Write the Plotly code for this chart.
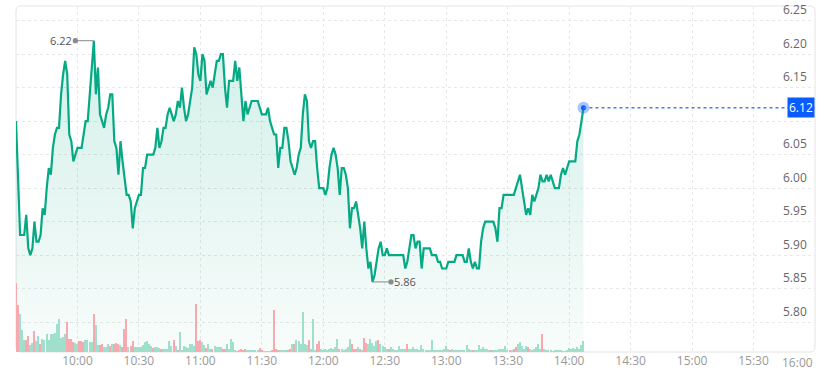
import plotly.graph_objects as go
import pandas as pd

# ---- data (1-minute intraday) ----
session_start = "2024-05-15 09:30"
session_end = "2024-05-15 16:00"

prices = [
    6.10, 6.01, 5.93, 5.93, 5.93, 5.96, 5.91, 5.90, 5.91, 5.95,
    5.92, 5.92, 5.93, 5.97, 5.96, 6.00, 6.03, 6.02, 6.06, 6.08,
    6.09, 6.09, 6.14, 6.17, 6.19, 6.17, 6.08, 6.07, 6.04, 6.05,
    6.06, 6.06, 6.06, 6.08, 6.10, 6.10, 6.14, 6.17, 6.22, 6.14,
    6.18, 6.11, 6.10, 6.09, 6.11, 6.12, 6.14, 6.14, 6.07, 6.06,
    6.02, 6.07, 6.04, 6.01, 5.99, 5.99, 5.98, 5.94, 5.97, 5.98,
    5.99, 5.99, 6.03, 6.03, 6.05, 6.05, 6.05, 6.05, 6.06, 6.09,
    6.06, 6.07, 6.09, 6.09, 6.11, 6.12, 6.11, 6.10, 6.11, 6.13,
    6.12, 6.15, 6.12, 6.10, 6.11, 6.13, 6.15, 6.21, 6.20, 6.17,
    6.16, 6.20, 6.19, 6.14, 6.15, 6.16, 6.15, 6.17, 6.19, 6.19,
    6.20, 6.20, 6.15, 6.12, 6.16, 6.16, 6.16, 6.19, 6.16, 6.18,
    6.14, 6.10, 6.13, 6.11, 6.12, 6.13, 6.13, 6.13, 6.13, 6.12,
    6.11, 6.11, 6.11, 6.12, 6.10, 6.09, 6.08, 6.08, 6.03, 6.06,
    6.06, 6.09, 6.09, 6.07, 6.04, 6.03, 6.02, 6.03, 6.05, 6.06,
    6.11, 6.14, 6.13, 6.07, 6.06, 6.07, 6.07, 6.03, 6.00, 6.00,
    6.00, 5.99, 6.00, 6.03, 6.05, 6.06, 6.05, 6.03, 5.99, 6.03,
    6.03, 6.02, 6.00, 5.94, 5.97, 5.97, 5.98, 5.96, 5.94, 5.91,
    5.95, 5.91, 5.88, 5.89, 5.86, 5.87, 5.89, 5.91, 5.92, 5.90,
    5.90, 5.91, 5.90, 5.90, 5.90, 5.90, 5.90, 5.90, 5.90, 5.90,
    5.88, 5.89, 5.91, 5.93, 5.93, 5.91, 5.92, 5.92, 5.88, 5.91,
    5.91, 5.91, 5.91, 5.90, 5.90, 5.90, 5.89, 5.89, 5.88, 5.88,
    5.88, 5.89, 5.89, 5.89, 5.89, 5.90, 5.90, 5.90, 5.90, 5.89,
    5.89, 5.91, 5.89, 5.88, 5.89, 5.88, 5.88, 5.92, 5.94, 5.95,
    5.95, 5.95, 5.95, 5.95, 5.94, 5.92, 5.97, 5.97, 5.99, 5.99,
    5.99, 5.99, 5.99, 5.99, 6.00, 6.01, 6.02, 6.00, 5.98, 5.96,
    5.97, 5.96, 5.99, 5.98, 5.99, 6.00, 6.02, 6.01, 6.01, 6.02,
    6.01, 6.02, 6.01, 6.00, 6.00, 6.00, 6.02, 6.03, 6.02, 6.03,
    6.04, 6.04, 6.04, 6.04, 6.07, 6.08, 6.10, 6.12,
]

# volume (thousands) and bar colour flag: g = up, r = down
volumes = [
    69, 47, 38, 22, 12, 12, 16, 7, 9, 21,
    11, 16, 8, 13, 12, 18, 12, 18, 18, 19,
    28, 33, 14, 15, 18, 30, 13, 13, 10, 9,
    8, 11, 11, 10, 12, 12, 10, 10, 38, 27,
    7, 7, 8, 5, 5, 8, 6, 8, 8, 9,
    8, 7, 5, 23, 33, 5, 6, 11, 5, 5,
    5, 5, 7, 10, 11, 8, 6, 4, 5, 5,
    4, 3, 3, 3, 3, 11, 6, 12, 6, 2,
    20, 2, 6, 5, 4, 8, 8, 6, 48, 11,
    12, 10, 7, 4, 8, 3, 3, 6, 5, 5,
    5, 3, 3, 8, 3, 13, 10, 2,
    1, 2, 3, 2, 3, 2, 2, 2, 2, 2, 2, 4, 2, 1, 1, 1, 1, 2, 42, 3,
    2, 2, 2, 2, 2, 2, 3, 8, 8, 12,
    11, 8, 40, 8, 7, 12, 3, 33, 2, 8,
    11, 3, 2, 3, 2, 3, 4, 3, 5, 13,
    3, 3, 2, 3, 5, 13, 8, 3, 3, 5,
    3, 2, 14, 9, 8, 13, 9, 6, 11, 12,
    8, 6, 5, 3, 3, 5, 3, 2, 2, 6,
    3, 3, 3, 8, 3, 3, 5, 3, 3, 2,
    7, 3, 2, 2, 2, 12, 2, 2,
    2, 2, 2, 3, 6, 3, 2, 3, 2, 2,
    2, 2, 2, 2, 7, 3, 2, 2, 2,
    2, 7, 3, 5, 3, 3, 2, 2, 2, 2,
    2, 3, 3, 3, 6, 2, 2, 2, 3, 5,
    8, 10, 6, 3, 6, 5, 3, 2, 3, 5,
    8, 3, 18, 3, 2, 2, 2, 1, 2, 2,
    2, 2, 1, 1, 2, 4, 3, 4, 3, 5,
    3, 7, 11,
]
vol_dir = (
    "rrgggrrggr"
    "ggrggggggg"
    "gggggrrrrg"
    "grrrggggrg"
    "grrgggrgrr"
    "rgrrrgrrgg"
    "gggggggrgg"
    "grgggggrgr"
    "ggggggggrr"
    "rggrggrggg"
    "grrgggg"
    "g"
    "grrrrggggggrrggggrrrrggggrrgrg"
    "gggggrgggrrgggggggggrgggggrrrg"
    "rgrrgggggrggggrggggggggrggg"
    "gggggggggggggggggrgggg"
    "ggggggrggggggggrggggggggrgrrggg"
    "ggrggggggrggggggggg"
)

y_ticks = [5.80, 5.85, 5.90, 5.95, 6.00, 6.05, 6.10, 6.15, 6.20, 6.25]
x_tick_labels = ["10:00", "10:30", "11:00", "11:30", "12:00", "12:30",
                 "13:00", "13:30", "14:00", "14:30", "15:00", "15:30"]
end_label = "16:00"

# ---- derived ----
times = pd.date_range(session_start, periods=len(prices), freq="min")
day = session_start[:10]
x_tick_vals = [pd.Timestamp(f"{day} {t}") for t in x_tick_labels]
n = len(prices)
vols = volumes[:n] + [0] * max(0, n - len(volumes))
dirs = (vol_dir + "g" * n)[:n]
GREEN_BAR = "#a0dfcb"
RED_BAR = "#f7a9b0"
bar_colors = [GREEN_BAR if d == "g" else RED_BAR for d in dirs]

LINE = "#05aa84"
BLUE = "#0a5cff"
Y_MIN, Y_MAX = 5.7554, 6.2718

i_max = max(range(n), key=lambda i: prices[i])
i_min = min(range(n), key=lambda i: prices[i])
last_t, last_p = times[-1], prices[-1]

fig = go.Figure()

fig.add_trace(go.Bar(
    x=times, y=vols, marker=dict(color=bar_colors, line=dict(width=0)),
    width=42000, yaxis="y2", hoverinfo="skip", showlegend=False,
))

fig.add_trace(go.Scatter(
    x=times, y=prices, mode="lines",
    line=dict(color=LINE, width=2.2),
    fill="tozeroy",
    fillgradient=dict(
        type="vertical", start=Y_MIN, stop=max(prices),
        colorscale=[[0, "rgba(0,166,126,0.03)"], [1, "rgba(0,166,126,0.17)"]],
    ),
    showlegend=False, hoverinfo="skip",
))

# last price marker with halo
fig.add_trace(go.Scatter(
    x=[last_t], y=[last_p], mode="markers",
    marker=dict(size=12, color="rgba(40,110,255,0.40)"),
    showlegend=False, hoverinfo="skip",
))
fig.add_trace(go.Scatter(
    x=[last_t], y=[last_p], mode="markers",
    marker=dict(size=5, color=BLUE),
    showlegend=False, hoverinfo="skip",
))

shapes = [
    dict(type="line", xref="x", yref="y", x0=last_t, x1=pd.Timestamp(session_end),
         y0=last_p, y1=last_p, line=dict(color="#3f7dff", width=1.5, dash="dot"),
         layer="above"),
]
# rounded plot border
W, H = 826 - 16 - 11, 375 - 6 - 23
rx, ry = 5 / W, 5 / H
path = (f"M {rx},0 L {1-rx},0 Q 1,0 1,{ry} L 1,{1-ry} Q 1,1 {1-rx},1 "
        f"L {rx},1 Q 0,1 0,{1-ry} L 0,{ry} Q 0,0 {rx},0 Z")
shapes.append(dict(type="path", xref="paper", yref="paper", path=path,
                   line=dict(color="#e4e4e4", width=1), layer="below"))

annotations = []
# y tick labels: right side, inside, just above each gridline
for v in y_ticks:
    if abs(v - last_p) < 0.03:
        continue  # hidden under the last-price badge
    annotations.append(dict(
        x=1, y=v, xref="paper", yref="y", xanchor="right", yanchor="middle",
        xshift=-6, yshift=11, text=f"{v:.2f}", showarrow=False,
        font=dict(size=12, color="#666")))

annotations += [
    dict(x=times[i_max], y=prices[i_max], xref="x", yref="y",
         text=f"{prices[i_max]:.2f}", showarrow=True, ax=-33, ay=0,
         arrowhead=0, arrowside="start", startarrowhead=6, startarrowsize=1.3,
         startstandoff=2, arrowwidth=1, arrowcolor="#8a8a8a",
         font=dict(size=11, color="#555")),
    dict(x=times[i_min], y=prices[i_min], xref="x", yref="y",
         text=f"{prices[i_min]:.2f}", showarrow=True, ax=33, ay=0,
         arrowhead=0, arrowside="start", startarrowhead=6, startarrowsize=1.3,
         startstandoff=2, arrowwidth=1, arrowcolor="#8a8a8a",
         font=dict(size=11, color="#555")),
    dict(x=1, y=last_p, xref="paper", yref="y", xanchor="right",
         text=f"{last_p:.2f}", showarrow=False, bgcolor=BLUE, borderpad=1,
         font=dict(size=12, color="white")),
    dict(x=pd.Timestamp(session_end), y=0, xref="x", yref="paper",
         xanchor="right", yanchor="middle", yshift=-10, text=end_label,
         showarrow=False, font=dict(size=12, color="#999")),
]

fig.update_layout(
    width=826, height=375,
    margin=dict(l=16, r=11, t=6, b=23),
    paper_bgcolor="white", plot_bgcolor="white",
    font=dict(family="Open Sans, sans-serif"),
    bargap=0,
    shapes=shapes, annotations=annotations,
    xaxis=dict(
        type="date", range=[session_start, session_end],
        tickvals=x_tick_vals, ticktext=x_tick_labels,
        showgrid=True, gridcolor="#e8e8e8", griddash="dot", gridwidth=1,
        showline=False, zeroline=False, ticks="",
        tickfont=dict(size=12, color="#999"),
    ),
    yaxis=dict(
        range=[Y_MIN, Y_MAX], side="right",
        tickvals=y_ticks, showticklabels=False,
        showgrid=True, gridcolor="#e8e8e8", griddash="dot", gridwidth=1,
        zeroline=False, showline=False, ticks="",
    ),
    yaxis2=dict(
        overlaying="y", range=[0, max(vols) * 346 / 69], visible=False,
        fixedrange=True,
    ),
)

fig.write_html(
    "out.html",
    config={"displayModeBar": False},
    post_script="document.body.style.margin='0';document.body.style.overflow='hidden';",
)
